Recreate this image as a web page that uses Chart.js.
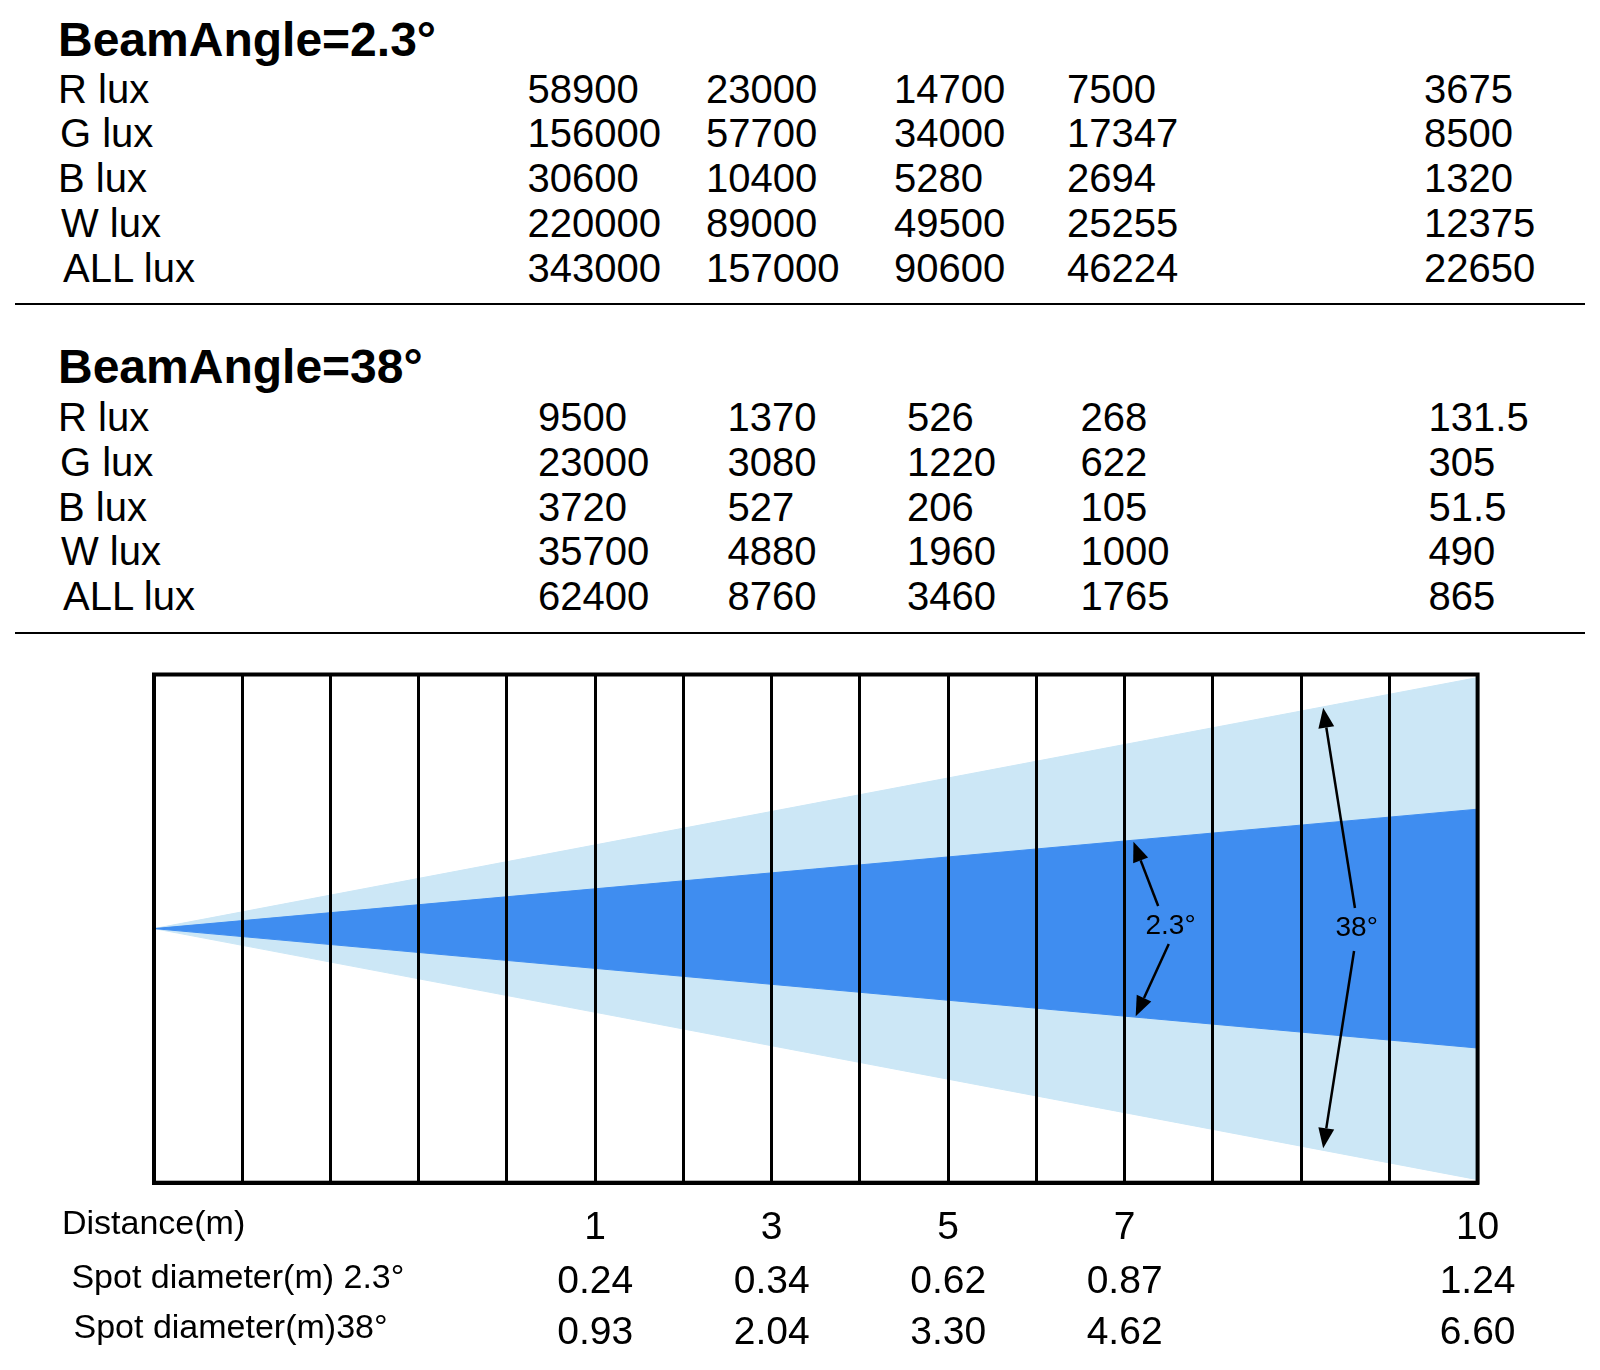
<!DOCTYPE html>
<html>
<head>
<meta charset="utf-8">
<script src="https://cdn.jsdelivr.net/npm/chart.js@4.4.1/dist/chart.umd.min.js"></script>
<style>
  html, body { margin: 0; padding: 0; background: #fff; }
  body { width: 1600px; height: 1370px; position: relative; overflow: hidden;
         font-family: "Liberation Sans", Arial, sans-serif; color: #000; }
  .t { position: absolute; white-space: nowrap; line-height: 1; }
  .rule { position: absolute; left: 15px; width: 1570px; height: 2px; background: #000; }
  #wrap { position: absolute; left: 0; top: 640px; width: 1600px; height: 640px; }
</style>
</head>
<body>
<div class="rule" style="top:303px"></div>
<div class="rule" style="top:632px"></div>
<div id="wrap"><canvas id="beam" width="1600" height="640"></canvas></div>

<script>
// lux tables
const rowNames = ["R lux", "G lux", "B lux", "W lux", "ALL lux"];

const lux23R = [58900, 23000, 14700, 7500, 3675];
const lux23G = [156000, 57700, 34000, 17347, 8500];
const lux23B = [30600, 10400, 5280, 2694, 1320];
const lux23W = [220000, 89000, 49500, 25255, 12375];
const lux23All = [343000, 157000, 90600, 46224, 22650];

const lux38R = [9500, 1370, 526, 268, 131.5];
const lux38G = [23000, 3080, 1220, 622, 305];
const lux38B = [3720, 527, 206, 105, 51.5];
const lux38W = [35700, 4880, 1960, 1000, 490];
const lux38All = [62400, 8760, 3460, 1765, 865];

// distance row (tick labels on the 15 cell grid) and spot sizes
const gridLabels = ["", "", "", "", "", "1", "", "3", "", "5", "", "7", "", "", "", "10"];
const distances = [1, 3, 5, 7, 10];
const spot23 = [0.24, 0.34, 0.62, 0.87, 1.24];
const spot38 = [0.93, 2.04, 3.30, 4.62, 6.60];

// beam half heights at apex and at the far end of the grid
const beamX = [0, 15];
const narrowEdge = [0, 47];
const wideEdge = [0, 98.8];

const angleNotes = [
  { text: "2.3°", at: [11.52, 1], arms: [[11.38, 8.9, 11.10, 34.2], [11.50, -6.1, 11.125, -34.5]] },
  { text: "38°", at: [13.63, 0], arms: [[13.61, 8.1, 13.25, 86.9], [13.60, -8.8, 13.25, -86.4]] }
];

function put(text, left, cy, size, bold, center) {
  const d = document.createElement("div");
  d.className = "t";
  d.textContent = text;
  d.style.fontSize = size + "px";
  if (bold) d.style.fontWeight = "bold";
  d.style.left = left + "px";
  d.style.top = (cy - 0.4885 * size) + "px";
  if (center) d.style.transform = "translateX(-50%)";
  document.body.appendChild(d);
}

function luxTable(title, titleY, rows, rowY, colX) {
  put(title, 58, titleY, 48, true);
  const labelX = [58, 60, 58, 61, 63];
  rows.forEach((vals, i) => {
    put(rowNames[i], labelX[i], rowY[i], 40);
    vals.forEach((v, j) => put(String(v), colX[j], rowY[i], 40));
  });
}

luxTable("BeamAngle=2.3°", 39, [lux23R, lux23G, lux23B, lux23W, lux23All],
  [88.3, 132.7, 177.5, 222.4, 267.3], [527.5, 706, 894, 1067, 1424]);
luxTable("BeamAngle=38°", 366.5, [lux38R, lux38G, lux38B, lux38W, lux38All],
  [416.3, 461.2, 506.1, 551, 595.9], [538, 727.5, 907, 1080.6, 1428.6]);

const pts = (edge, sign) => beamX.map((x, i) => ({ x: x, y: sign * edge[i] }));

const boxAndNotes = {
  id: "boxAndNotes",
  afterDraw(chart) {
    const { ctx, chartArea: a, scales: { x, y } } = chart;
    ctx.save();
    ctx.strokeStyle = "#000";
    ctx.lineWidth = 4;
    ctx.strokeRect(a.left, a.top, a.right - a.left, a.bottom - a.top);

    ctx.fillStyle = "#000";
    ctx.lineWidth = 2.5;
    angleNotes.forEach(n => {
      n.arms.forEach(([x0, y0, x1, y1]) => {
        const px0 = x.getPixelForValue(x0), py0 = y.getPixelForValue(y0);
        const px1 = x.getPixelForValue(x1), py1 = y.getPixelForValue(y1);
        const ang = Math.atan2(py1 - py0, px1 - px0);
        const hl = 20, hw = 8;
        const bx = px1 - hl * Math.cos(ang), by = py1 - hl * Math.sin(ang);
        ctx.beginPath();
        ctx.moveTo(px0, py0);
        ctx.lineTo(bx, by);
        ctx.stroke();
        ctx.beginPath();
        ctx.moveTo(px1, py1);
        ctx.lineTo(bx + hw * Math.sin(ang), by - hw * Math.cos(ang));
        ctx.lineTo(bx - hw * Math.sin(ang), by + hw * Math.cos(ang));
        ctx.closePath();
        ctx.fill();
      });
      ctx.font = '28px "Liberation Sans", Arial, sans-serif';
      ctx.textAlign = "center";
      ctx.textBaseline = "middle";
      ctx.fillText(n.text, x.getPixelForValue(n.at[0]), y.getPixelForValue(n.at[1]));
    });
    ctx.restore();
  }
};

const dark = "#3f8df0";
const light = "#cce7f6";

const chart = new Chart(document.getElementById("beam"), {
  type: "line",
  data: {
    datasets: [
      { data: pts(narrowEdge, 1), fill: "+1", backgroundColor: dark, borderColor: dark, borderWidth: 1, pointRadius: 0 },
      { data: pts(narrowEdge, -1), fill: false, borderColor: dark, borderWidth: 1, pointRadius: 0 },
      { data: pts(wideEdge, 1), fill: "+1", backgroundColor: light, borderColor: light, borderWidth: 1, pointRadius: 0 },
      { data: pts(wideEdge, -1), fill: false, borderColor: light, borderWidth: 1, pointRadius: 0 }
    ]
  },
  options: {
    responsive: false,
    animation: false,
    layout: { padding: { left: 154, right: 122.4, top: 34.5, bottom: 0 } },
    plugins: { legend: { display: false }, tooltip: { enabled: false } },
    scales: {
      x: {
        type: "linear",
        min: 0,
        max: 15,
        afterFit(s) { s.height = 97.3; },
        ticks: {
          stepSize: 1,
          autoSkip: false,
          maxRotation: 0,
          padding: 22,
          color: "#000",
          font: { family: '"Liberation Sans", Arial, sans-serif', size: 39, lineHeight: 1.2 },
          callback: (v) => gridLabels[v] || ""
        },
        grid: { color: "#000", lineWidth: 3, drawTicks: false, z: 1 },
        border: { display: true, color: "#000", width: 4, z: 1 }
      },
      y: { display: false, min: -100, max: 100 }
    }
  },
  plugins: [boxAndNotes]
});

// bottom rows, columns taken from the chart's own x scale
const sx = chart.scales.x;
put("Distance(m)", 62, 1221.5, 34);
put("Spot diameter(m) 2.3°", 71.4, 1275.5, 34);
put("Spot diameter(m)38°", 73.5, 1325.5, 34);
distances.forEach((d, i) => {
  const px = sx.getPixelForValue(gridLabels.indexOf(String(d)));
  put(spot23[i].toFixed(2), px, 1278.6, 39, false, true);
  put(spot38[i].toFixed(2), px, 1329.6, 39, false, true);
});
</script>
</body>
</html>
